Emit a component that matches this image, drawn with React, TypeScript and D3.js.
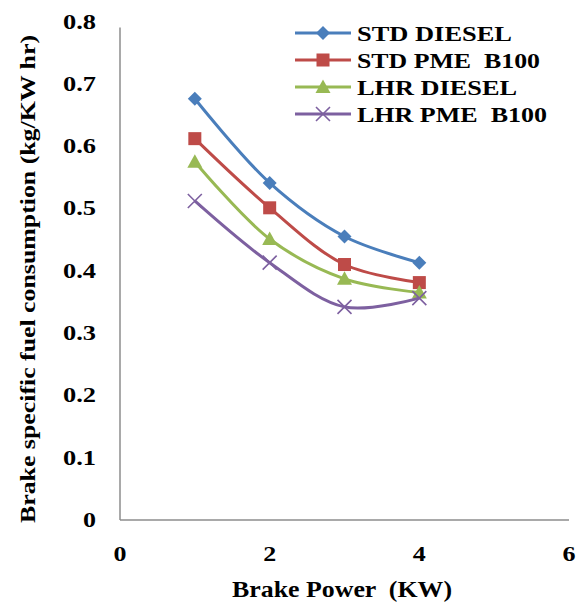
import React from "react";
import * as d3 from "d3";

const xValues = [1, 2, 3, 4];
const stdDiesel = [0.676, 0.541, 0.455, 0.413];
const stdPme = [0.612, 0.501, 0.41, 0.381];
const lhrDiesel = [0.575, 0.451, 0.387, 0.365];
const lhrPme = [0.512, 0.413, 0.342, 0.356];
const seriesNames = ["STD DIESEL", "STD PME  B100", "LHR DIESEL", "LHR PME  B100"];
const xTicks = [0, 2, 4, 6];
const yTicks = [0, 0.1, 0.2, 0.3, 0.4, 0.5, 0.6, 0.7, 0.8];

const colors = ["#4a7ebb", "#be4b48", "#98b954", "#7d60a0"];
const markers = ["diamond", "square", "triangle", "x"];
const legendWidths = [155, 183, 160, 190];

const W = 579, H = 604;
const left = 120, right = 569, top = 21.5, bottom = 520;

function Marker({ type, x, y, color }: { type: string; x: number; y: number; color: string }) {
  if (type === "diamond") {
    const s = 7;
    return <path d={`M${x},${y - s}L${x + s},${y}L${x},${y + s}L${x - s},${y}Z`} fill={color} />;
  }
  if (type === "square") {
    const s = 6.5;
    return <rect x={x - s} y={y - s} width={2 * s} height={2 * s} fill={color} />;
  }
  if (type === "triangle") {
    const s = 7.5;
    return <path d={`M${x},${y - s}L${x + s},${y + s * 0.8}L${x - s},${y + s * 0.8}Z`} fill={color} />;
  }
  const s = 7;
  return (
    <path d={`M${x - s},${y - s}L${x + s},${y + s}M${x - s},${y + s}L${x + s},${y - s}`} stroke={color} strokeWidth={1.6} fill="none" />
  );
}

export default function App() {
  const x = d3.scaleLinear().domain([0, 6]).range([left, right]);
  const y = d3.scaleLinear().domain([0, 0.8]).range([bottom, top]);
  const series = [stdDiesel, stdPme, lhrDiesel, lhrPme];
  const line = d3
    .line<[number, number]>()
    .x((d) => x(d[0]))
    .y((d) => y(d[1]))
    .curve(d3.curveCatmullRom.alpha(0.5));
  const font = "'Liberation Serif', 'Times New Roman', serif";
  const pre = { whiteSpace: "pre" as const };

  return (
    <svg width={W} height={H} style={{ position: "absolute", left: 0, top: 0, background: "#fff" }}>
      <rect width={W} height={H} fill="#fff" />
      <line x1={left} y1={top + 6} x2={left} y2={bottom} stroke="#8c8c8c" strokeWidth={1.5} />
      <line x1={left} y1={bottom} x2={right} y2={bottom} stroke="#8c8c8c" strokeWidth={1.5} />
      {yTicks.map((t) => (
        <text
          key={t}
          x={96}
          y={y(t) + 7}
          textAnchor="end"
          fontFamily={font}
          fontWeight="bold"
          fontSize={20}
          fill="#000"
          textLength={t === 0 ? 13 : 33}
          lengthAdjust="spacingAndGlyphs"
        >
          {t === 0 ? "0" : t.toFixed(1)}
        </text>
      ))}
      {xTicks.map((t) => (
        <text
          key={t}
          x={x(t) - 6.5}
          y={561}
          fontFamily={font}
          fontWeight="bold"
          fontSize={20}
          fill="#000"
          textLength={13}
          lengthAdjust="spacingAndGlyphs"
        >
          {t}
        </text>
      ))}
      <text
        x={232}
        y={597}
        fontFamily={font}
        fontWeight="bold"
        fontSize={24}
        fill="#000"
        textLength={220}
        lengthAdjust="spacingAndGlyphs"
        style={pre}
      >
        {"Brake Power  (KW)"}
      </text>
      <text
        transform={`translate(35,523) rotate(-90)`}
        fontFamily={font}
        fontWeight="bold"
        fontSize={21}
        fill="#000"
        textLength={488}
        lengthAdjust="spacingAndGlyphs"
      >
        Brake specific fuel consumption (kg/KW hr)
      </text>
      {series.map((vals, i) => {
        const pts = xValues.map((xv, j) => [xv, vals[j]] as [number, number]);
        return (
          <g key={i}>
            <path d={line(pts) || ""} fill="none" stroke={colors[i]} strokeWidth={3} />
            {pts.map((p, j) => (
              <Marker key={j} type={markers[i]} x={x(p[0])} y={y(p[1])} color={colors[i]} />
            ))}
          </g>
        );
      })}
      {seriesNames.map((name, i) => {
        const ly = 33 + i * 27;
        return (
          <g key={name}>
            <line x1={295} x2={351} y1={ly} y2={ly} stroke={colors[i]} strokeWidth={3} />
            <Marker type={markers[i]} x={323} y={ly} color={colors[i]} />
            <text
              x={357}
              y={ly + 7.5}
              fontFamily={font}
              fontWeight="bold"
              fontSize={22}
              fill="#000"
              textLength={legendWidths[i]}
              lengthAdjust="spacingAndGlyphs"
              style={pre}
            >
              {name}
            </text>
          </g>
        );
      })}
    </svg>
  );
}
